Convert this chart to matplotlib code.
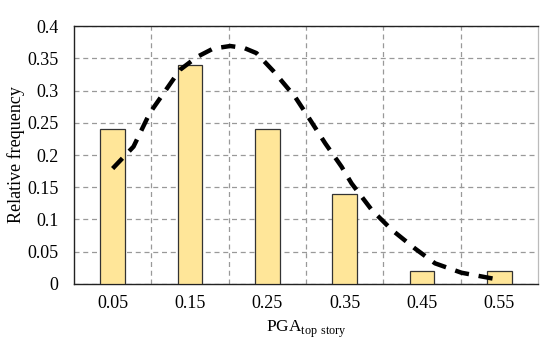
import matplotlib
matplotlib.use("Agg")
import matplotlib.pyplot as plt
from matplotlib.ticker import FixedLocator

plt.rcParams['font.family'] = ['Liberation Serif', 'DejaVu Serif']
plt.rcParams['mathtext.fontset'] = 'custom'
plt.rcParams['mathtext.rm'] = 'Liberation Serif'

# histogram data
categorias = ['0.05', '0.15', '0.25', '0.35', '0.45', '0.55']
frecuencia = [0.24, 0.34, 0.24, 0.14, 0.02, 0.02]

# fitted curve (x in category units)
curva_x = [0.0, 0.27, 0.48, 0.87, 1.09, 1.3, 1.52, 1.7, 1.86, 2.08, 2.36, 2.53,
           2.75, 2.96, 3.09, 3.35, 3.61, 3.91, 4.17, 4.51, 4.9, 4.97]
curva_y = [0.179, 0.213, 0.265, 0.332, 0.352, 0.365, 0.369, 0.366, 0.358, 0.330,
           0.290, 0.259, 0.218, 0.182, 0.156, 0.115, 0.084, 0.055, 0.032, 0.0175,
           0.0088, 0.0073]

fig = plt.figure(figsize=(5.5, 3.47), dpi=100)
ax = fig.add_axes([0.1345, 0.1816, 0.8435, 0.7434])

pos = list(range(len(categorias)))
ax.bar(pos, frecuencia, width=0.32, color='#FFE699', edgecolor='#333333',
       linewidth=0.9, zorder=3)
ax.plot(curva_x, curva_y, color='black', linestyle=(0, (3.2, 2.2)), linewidth=3.2,
        zorder=4)

ax.set_xlim(-0.5, 5.5)
ax.set_ylim(0, 0.4)
ax.set_xticks(pos)
ax.set_xticklabels(categorias)
ax.xaxis.set_minor_locator(FixedLocator([0.5, 1.5, 2.5, 3.5, 4.5]))
ax.set_yticks([0, 0.05, 0.1, 0.15, 0.2, 0.25, 0.3, 0.35, 0.4])
ax.set_yticklabels(['0', '0.05', '0.1', '0.15', '0.2', '0.25', '0.3', '0.35', '0.4'])
ax.tick_params(axis='both', which='both', length=0, labelsize=13)
ax.tick_params(axis='x', pad=8)
ax.tick_params(axis='y', pad=11)

ax.grid(True, axis='y', which='major', color='#999999', linestyle=(0, (4, 3)), linewidth=0.9)
ax.grid(True, axis='x', which='minor', color='#999999', linestyle=(0, (4, 3)), linewidth=0.9)
ax.set_axisbelow(True)

for lado in ['left', 'bottom', 'top']:
    ax.spines[lado].set_color('#222222')
    ax.spines[lado].set_linewidth(1.0)
ax.spines['right'].set_color('#bbbbbb')
ax.spines['right'].set_linewidth(0.9)

ax.set_ylabel('Relative frequency', fontsize=13, labelpad=2)
ax.set_xlabel(r'PGA$_{\mathrm{top\ story}}$', fontsize=12.5, labelpad=5)

plt.savefig('out.png', dpi=100)
plt.close()
